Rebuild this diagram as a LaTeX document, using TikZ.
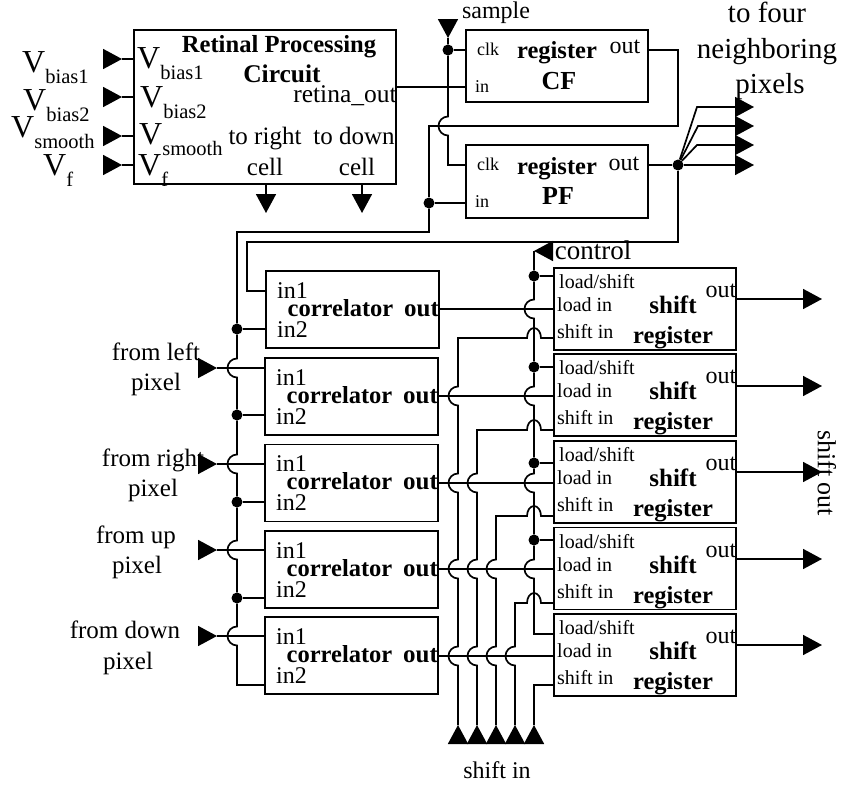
\documentclass[tikz,border=0pt]{standalone}
\usepackage{fontspec}
\setmainfont{Liberation Serif}
\usetikzlibrary{arrows.meta}

\tikzset{
  wire/.style={line width=1.7pt},
  tri/.style={-{Triangle[length=19pt,width=20pt]}},
  box/.style={draw, line width=1.2pt, inner sep=0pt},
  thickbox/.style={draw, line width=1.8pt, inner sep=0pt},
  dot/.style={circle, fill=black, inner sep=0pt, minimum size=11pt},
  txt/.style={inner sep=0pt, anchor=base, font=\fontsize{#1}{#1}\selectfont},
  btxt/.style={inner sep=0pt, anchor=base, font=\fontsize{#1}{#1}\selectfont\bfseries},
  vtxt/.style={inner sep=0pt, anchor=base west, font=\fontsize{32}{32}\selectfont}
}
% hop of a vertical wire over a horizontal one
\newcommand{\vhop}[2]{-- (#1,#2-9.5) arc[start angle=90, end angle=270, radius=9.5pt]}
\newcommand{\vsub}[1]{V\raisebox{-11pt}{\fontsize{20.5}{20.5}\selectfont #1}}

\begin{document}
\begin{tikzpicture}[x=1pt, y=-1pt]
  \useasboundingbox (0,0) rectangle (841,787);

  % Upper blocks
  \node [box, minimum width=262pt, minimum height=154pt] (retina) at (265,107) {};
  \node [box, minimum width=182pt, minimum height=72pt] (cf) at (557,66) {};
  \node [box, minimum width=182pt, minimum height=73pt] (pf) at (557,181.5) {};

  % Correlators and shift registers
  \foreach \n/\cx/\cy/\t in {1/352.5/309.5/271, 2/351.5/396.5/358, 3/351.5/483/444, 4/351.5/569.5/531, 5/351.5/655.5/617} {
    \node [thickbox, minimum width=173pt, minimum height=77pt] (corr\n) at (\cx,\cy) {};
    \node [txt=24] (corrinA\n) at (\cx-60,\t+27) {in1};
    \node [btxt=24.5] (corrname\n) at (\cx-12,\t+45) {correlator};
    \node [btxt=25] (corrout\n) at (\cx+69,\t+45) {out};
    \node [txt=24] (corrinB\n) at (\cx-60,\t+66) {in2};
  }
  \foreach \n/\cy/\t in {1/309/268, 2/395/354, 3/482/441, 4/568.5/528, 5/655/614} {
    \node [box, minimum width=182pt, minimum height=82pt] (shreg\n) at (645,\cy) {};
    \node [txt=20, anchor=base west] (ldshift\n) at (559,\t+20) {load/shift};
    \node [txt=20, anchor=base west] (ldin\n) at (557,\t+43) {load in};
    \node [txt=20, anchor=base west] (shin\n) at (557,\t+70) {shift in};
    \node [btxt=25] (shname\n) at (673,\t+45) {shift};
    \node [btxt=24.5] (shreg\n name) at (673,\t+75) {register};
    \node [txt=24] (shout\n) at (721,\t+29) {out};
  }

  % Junction dots
  \node [dot] (dotclk) at (448,50) {};
  \node [dot] (dotin) at (429,203) {};
  \node [dot] (dotpf) at (678,165) {};
  \foreach \n/\y in {1/276, 2/367, 3/463, 4/540} {
    \node [dot] (dotctl\n) at (534,\y) {};
  }
  \foreach \n/\y in {1/329, 2/415, 3/502, 4/598} {
    \node [dot] (dotcor\n) at (237,\y) {};
  }

  % Bias inputs of the retinal block
  \foreach \n/\y in {1/59, 2/97, 3/136, 4/165} {
    \coordinate (vbase\n) at (103,\y);
    \coordinate (vtip\n) at (122,\y);
    \draw [wire, tri] (vbase\n) -- (vtip\n);
    \draw [wire] (vtip\n) -- (vtip\n -| retina.west);
  }
  % Outputs to the right and down cells
  \foreach \n/\x in {1/266, 2/362} {
    \coordinate (celltip\n) at (\x,213);
    \draw [wire, tri] (celltip\n |- retina.south) -- (celltip\n);
  }

  % Registers
  \coordinate (samplebase) at (448,19);
  \coordinate (sampletip) at (448,38);
  \draw [wire, tri] (samplebase) -- (sampletip);
  \draw [wire] (sampletip) -- (dotclk) \vhop{448}{126} -- (448,165) -- (pf.west |- 0,165);
  \draw [wire] (dotclk) -- (dotclk -| cf.west);
  \draw [wire] (retina.east |- 0,87) -- (cf.west |- 0,87);
  \draw [wire] (cf.east |- 0,50) -- (678,50) -- (678,126) -- (429,126) -- (dotin);
  \draw [wire] (dotin) -- (dotin -| pf.west);

  % Wire from the CF register down the correlators, hopping over the pixel inputs
  \draw [wire] (dotin) -- (429,232) -- (237,232) -- (dotcor1) \vhop{237}{368} -- (dotcor2)
    \vhop{237}{464} -- (dotcor3) \vhop{237}{550} -- (dotcor4) \vhop{237}{636}
    -- (237,685) -- (corr5.west |- 0,685);
  \foreach \n in {1,2,3,4} {
    \draw [wire] (dotcor\n) -- (dotcor\n -| corr\n.west);
  }

  % Pixel inputs
  \foreach \n/\y in {2/368, 3/464, 4/550, 5/636} {
    \coordinate (pixbase\n) at (198,\y);
    \coordinate (pixtip\n) at (217,\y);
    \draw [wire, tri] (pixbase\n) -- (pixtip\n);
    \draw [wire] (pixtip\n) -- (pixtip\n -| corr\n.west);
  }

  % PF output, its fan to the neighbors and the wire to correlator 1
  \coordinate (nbtipA) at (754,107);
  \coordinate (nbtipB) at (754,126);
  \coordinate (nbtipC) at (754,145);
  \coordinate (nbtipD) at (754,165);
  \draw [wire] (pf.east |- dotpf) -- (dotpf);
  \draw [wire, tri] (dotpf) -- (697,107) -- (nbtipA);
  \draw [wire, tri] (dotpf) -- (698,126) -- (nbtipB);
  \draw [wire, tri] (dotpf) -- (697,145) -- (nbtipC);
  \draw [wire, tri] (dotpf) -- (nbtipD);
  \draw [wire] (dotpf) -- (678,242) -- (247,242) -- (247,291) -- (corr1.west |- 0,291);

  % Control wire along the shift registers
  \coordinate (ctlbase) at (552,251);
  \coordinate (ctltip) at (534,251);
  \draw [wire, tri] (ctlbase) -- (ctltip);
  \draw [wire] (ctltip) -- (dotctl1) \vhop{534}{309} -- (dotctl2) \vhop{534}{396} -- (dotctl3)
    \vhop{534}{483} -- (dotctl4) \vhop{534}{569} -- (534,634) -- (shreg5.west |- 0,634);
  \foreach \n in {1,2,3,4} {
    \draw [wire] (dotctl\n) -- (dotctl\n -| shreg\n.west);
  }

  % Correlator outputs
  \foreach \n/\y in {1/309, 2/396, 3/483, 4/569, 5/656} {
    \draw [wire] (corr\n.east |- 0,\y) -- (shreg\n.west |- 0,\y);
  }

  % Shift in wires, they hop the correlator outputs and the control wire
  \foreach \n/\x/\y/\hops in {1/458/338/{396,483,569,656}, 2/477/430/{483,569,656}, 3/496/516/{569,656}, 4/515/603/{656}} {
    \coordinate (shbase\n) at (\x,741);
    \coordinate (shtip\n) at (\x,725);
    \draw [wire, tri] (shbase\n) -- (shtip\n);
    \draw [wire] (shreg\n.west |- 0,\y) -- (541,\y)
      arc [start angle=0, end angle=180, x radius=7pt, y radius=10pt] -- (\x,\y)
      foreach \h in \hops { \vhop{\x}{\h} } -- (shtip\n);
  }
  \coordinate (shbase5) at (534,741);
  \coordinate (shtip5) at (534,725);
  \draw [wire, tri] (shbase5) -- (shtip5);
  \draw [wire] (shtip5) -- (534,685) -- (shreg5.west |- 0,685);

  % Shift register outputs
  \foreach \n/\y in {1/299, 2/386, 3/472, 4/559, 5/645} {
    \coordinate (outtip\n) at (822,\y);
    \draw [wire, tri] (outtip\n -| shreg\n.east) -- (outtip\n);
  }

  % Labels of the retinal block
  \node [vtxt] (vla) at (22,72) {\vsub{bias1}};
  \node [vtxt] (vlb) at (23,110) {\vsub{bias2}};
  \node [vtxt] (vlc) at (11,137) {\vsub{smooth}};
  \node [vtxt] (vld) at (43,175) {\vsub{f}};
  \node [vtxt] (via) at (137,68) {\vsub{bias1}};
  \node [vtxt] (vib) at (140,107) {\vsub{bias2}};
  \node [vtxt] (vic) at (139,144) {\vsub{smooth}};
  \node [vtxt] (vid) at (138,175) {\vsub{f}};
  \node [btxt=24.6] (rettitle) at (279,52) {Retinal Processing};
  \node [btxt=25.5] (retcircuit) at (282,82) {Circuit};
  \node [txt=25.5] (retout) at (345,102) {retina\_out};
  \node [txt=25] (toright) at (265,144) {to right};
  \node [txt=25] (todown) at (354,144) {to down};
  \node [txt=25] (cellr) at (265,175) {cell};
  \node [txt=25] (celld) at (357,175) {cell};

  % Labels of the registers
  \node [txt=18] (clkcf) at (488,55) {clk};
  \node [txt=18] (incf) at (482,92) {in};
  \node [btxt=24.5] (regcf) at (557,58) {register};
  \node [btxt=26] (namecf) at (559,89) {CF};
  \node [txt=24] (outcf) at (625,53) {out};
  \node [txt=18] (clkpf) at (488,170) {clk};
  \node [txt=18] (inpf) at (482,207) {in};
  \node [btxt=24.5] (regpf) at (557,174) {register};
  \node [btxt=26] (namepf) at (558,204) {PF};
  \node [txt=24] (outpf) at (624,170) {out};

  % Free labels
  \node [txt=24] (samplelab) at (496,18) {sample};
  \node [txt=27] (controllab) at (593,259) {control};
  \node [txt=29] (fourA) at (767,22) {to four};
  \node [txt=29] (fourB) at (767,58) {neighboring};
  \node [txt=29] (fourC) at (770,93) {pixels};
  \node [txt=25] (leftA) at (156,360) {from left};
  \node [txt=25] (leftB) at (156,390) {pixel};
  \node [txt=25] (rightA) at (153,466) {from right};
  \node [txt=25] (rightB) at (153,496) {pixel};
  \node [txt=25] (upA) at (136,543) {from up};
  \node [txt=25] (upB) at (137,573) {pixel};
  \node [txt=25] (downA) at (125,638) {from down};
  \node [txt=25] (downB) at (128,669) {pixel};
  \node [txt=24] (shinlab) at (497,778) {shift in};
  \node [inner sep=0pt, font=\fontsize{26}{26}\selectfont, rotate=-90] (shoutlab) at (827,473) {shift out};
\end{tikzpicture}
\end{document}
